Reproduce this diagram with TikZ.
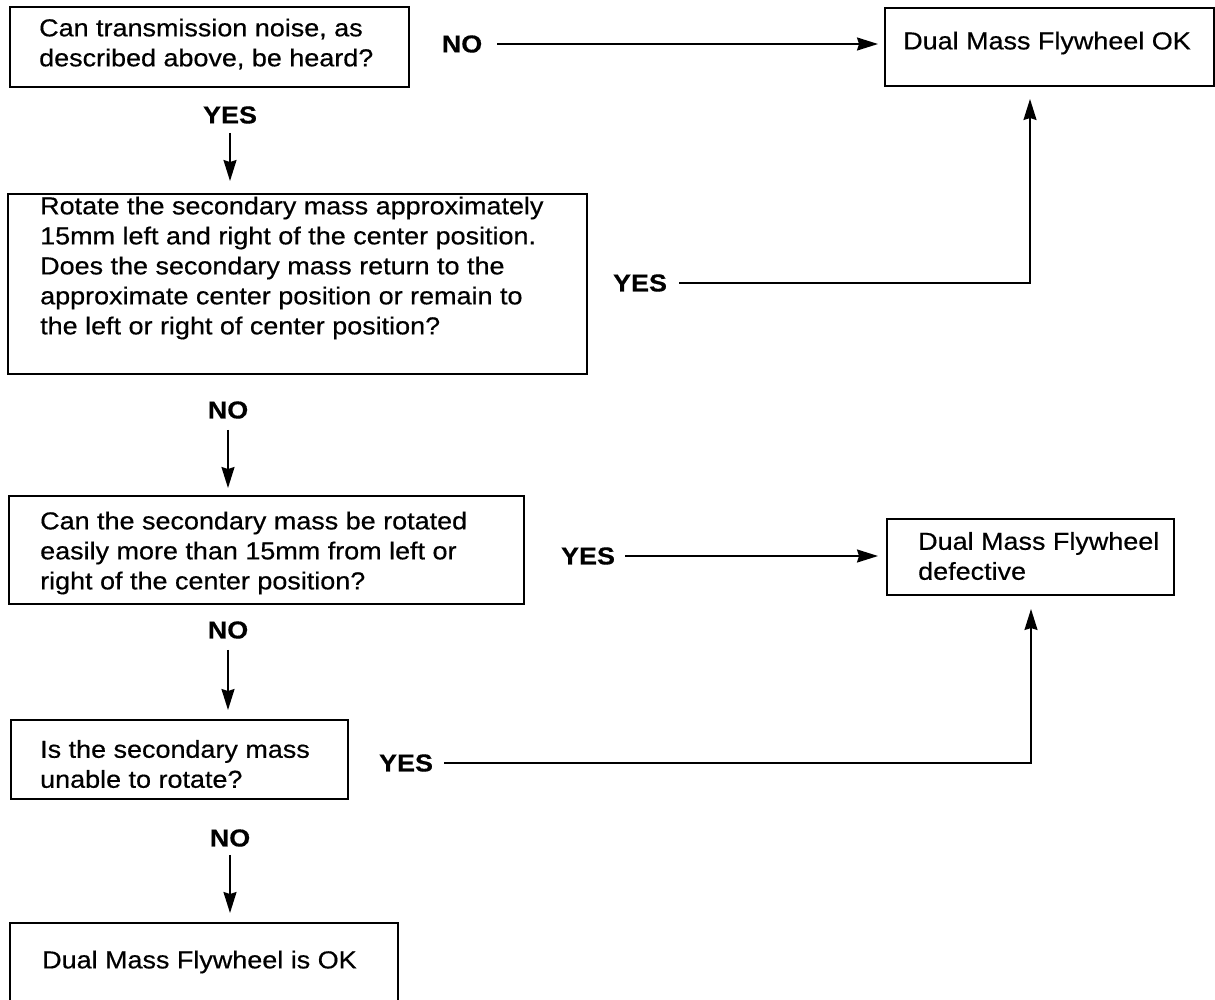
\documentclass[tikz,border=0pt]{standalone}
\usepackage{fontspec}
\setmainfont{Liberation Sans}[FakeStretch=1.1,FakeBold=0.5]
\usetikzlibrary{arrows.meta}
\begin{document}
\begin{tikzpicture}[x=1pt,y=-1pt,
  box/.style={draw, line width=2pt, inner sep=0pt, anchor=north west},
  txt/.style={anchor=west, align=left, inner sep=0pt, font=\fontsize{24.5}{30}\selectfont},
  lab/.style={inner sep=0pt, font=\fontsize{24.5}{30}\selectfont\bfseries},
  arr/.style={line width=1.8pt, -{Stealth[length=21pt,width=13pt,inset=2pt]}}]
\useasboundingbox (0,0) rectangle (1215,999);
\clip (0,0) rectangle (1215,999);

% boxes
\node[box, minimum width=399pt, minimum height=80pt]  (b1)   at (9,6) {};
\node[box, minimum width=329pt, minimum height=78pt]  (bok)  at (884,7) {};
\node[box, minimum width=579pt, minimum height=180pt] (b2)   at (7,193) {};
\node[box, minimum width=515pt, minimum height=108pt] (b3)   at (8,495) {};
\node[box, minimum width=287pt, minimum height=76pt]  (bdef) at (886,518) {};
\node[box, minimum width=337pt, minimum height=79pt]  (b4)   at (10,719) {};
\node[box, minimum width=388pt, minimum height=100pt] (b5)   at (9,922) {};

% texts
\node[txt] (t1) at (39,44) {Can transmission noise, as\\described above, be heard?};
\node[txt, anchor=center, align=center] (tok) at (1047,43) {Dual Mass Flywheel OK};
\node[txt] (t2) at (40,268) {Rotate the secondary mass approximately\\15mm left and right of the center position.\\Does the secondary mass return to the\\approximate center position or remain to\\the left or right of center position?};
\node[txt] (t3) at (40,553) {Can the secondary mass be rotated\\easily more than 15mm from left or\\right of the center position?};
\node[txt] (tdef) at (918,556) {Dual Mass Flywheel\\defective};
\node[txt] (t4) at (40,764) {Is the secondary mass\\unable to rotate?};
\node[txt] (t5) at (42,962) {Dual Mass Flywheel is OK};

% labels
\node[lab] (no1)  at (462,44)  {NO};
\node[lab] (yes1) at (230,115) {YES};
\node[lab] (yes2) at (640,283) {YES};
\node[lab] (no2)  at (228,410) {NO};
\node[lab] (yes3) at (588,556) {YES};
\node[lab] (no3)  at (228,630) {NO};
\node[lab] (yes4) at (406,763) {YES};
\node[lab] (no4)  at (230,838) {NO};

% connectors
\draw[arr, shorten <=15pt, shorten >=6pt] (no1.east) -- (no1.east -| bok.west);
\draw[arr, shorten <=9pt, shorten >=12pt] (yes1.south) -- (yes1.south |- b2.north);
\draw[arr, shorten <=12pt, shorten >=12pt] (yes2.east) -| ([xshift=146pt]bok.south west);
\draw[arr, shorten <=11pt, shorten >=7pt] (no2.south) -- (no2.south |- b3.north);
\draw[arr, shorten <=10pt, shorten >=8pt] (yes3.east) -- (yes3.east -| bdef.west);
\draw[arr, shorten <=11pt, shorten >=9pt] (no3.south) -- (no3.south |- b4.north);
\draw[arr, shorten <=11pt, shorten >=13pt] (yes4.east) -| ([xshift=145pt]bdef.south west);
\draw[arr, shorten <=8pt, shorten >=9pt] (no4.south) -- (no4.south |- b5.north);
\end{tikzpicture}
\end{document}
